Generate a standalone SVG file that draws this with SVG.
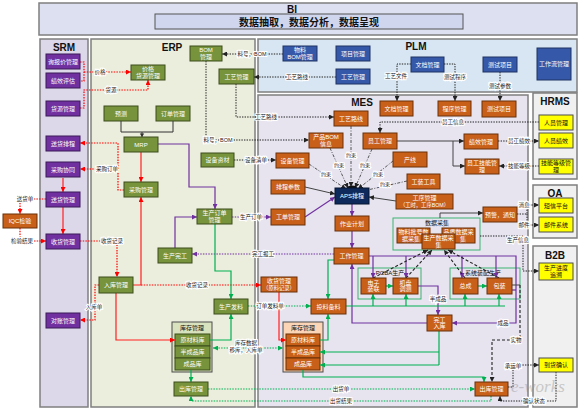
<svg xmlns="http://www.w3.org/2000/svg" width="583" height="411" viewBox="0 0 583 411">
<style>
.pnl{stroke:#7f7f7f;stroke-width:1.5}
.ttl{font-family:"Liberation Sans","Noto Sans CJK SC",sans-serif;font-weight:bold;font-size:10px;text-anchor:middle;fill:#111}
.nt{font-family:"Liberation Sans","Noto Sans CJK SC",sans-serif;font-size:6px;fill:#fff;text-anchor:middle}
.nk{font-family:"Liberation Sans","Noto Sans CJK SC",sans-serif;font-size:6px;fill:#111;text-anchor:middle}
.srm{fill:#7030A0;stroke:#3b1a56;stroke-width:1}
.erp{fill:#77933C;stroke:#3d4d1d;stroke-width:1}
.mes{fill:#C8601A;stroke:#6b3008;stroke-width:1}
.plm{fill:#3558A8;stroke:#1f3362;stroke-width:1}
.hr{fill:#FFFF00;stroke:#4d4d4d;stroke-width:1}
.grp{fill:none;stroke:#3CB371;stroke-width:1}
.lb{font-family:"Liberation Sans","Noto Sans CJK SC",sans-serif;font-size:5.5px;fill:#222;text-anchor:middle;stroke:#fff;stroke-width:2.2;paint-order:stroke}
.ys{font-size:5px}
.c{fill:none}
.rd{stroke:#FF0000;stroke-width:1.2;stroke-dasharray:1.5 1.2}
.rs{stroke:#FF2020;stroke-width:1.2}
.ps{stroke:#7030A0;stroke-width:1.2}
.pd{stroke:#7030A0;stroke-width:1.2;stroke-dasharray:1.5 1.2}
.gs{stroke:#00B050;stroke-width:1.2}
.gd{stroke:#00B050;stroke-width:1.2;stroke-dasharray:1.5 1.2}
.kd{stroke:#222;stroke-width:1;stroke-dasharray:1.4 1.2}
.kdd{stroke:#444;stroke-width:0.9;stroke-dasharray:3 1.5 1 1.5}
.kda{stroke:#222;stroke-width:1.1;stroke-dasharray:3 2}
.ks{stroke:#444;stroke-width:1}
</style>
<defs>
<marker id="ar" markerUnits="userSpaceOnUse" markerWidth="5" markerHeight="5" refX="5" refY="2.5" orient="auto"><path d="M0,0L5,2.5L0,5z" fill="#FF0000"/></marker>
<marker id="ap" markerUnits="userSpaceOnUse" markerWidth="5" markerHeight="5" refX="5" refY="2.5" orient="auto"><path d="M0,0L5,2.5L0,5z" fill="#7030A0"/></marker>
<marker id="ag" markerUnits="userSpaceOnUse" markerWidth="5" markerHeight="5" refX="5" refY="2.5" orient="auto"><path d="M0,0L5,2.5L0,5z" fill="#00B050"/></marker>
<marker id="ags" markerUnits="userSpaceOnUse" markerWidth="5" markerHeight="5" refX="0" refY="2.5" orient="auto"><path d="M5,0L0,2.5L5,5z" fill="#00B050"/></marker>
<marker id="ak" markerUnits="userSpaceOnUse" markerWidth="5" markerHeight="5" refX="5" refY="2.5" orient="auto"><path d="M0,0L5,2.5L0,5z" fill="#222"/></marker>
</defs>
<rect width="583" height="411" fill="#fff"/>

<g id="panel-bi">
<rect class="pnl" x="39" y="3" width="538" height="32" fill="#DCE0F1"/>
<text class="ttl" x="292" y="13">BI</text>
<rect x="155" y="14" width="308" height="15" fill="#D0D6EE" stroke="#555" stroke-width="1"/>
<text class="ttl" x="309" y="25.5" font-size="9.5">数据抽取，数据分析，数据呈现</text>
</g>
<g id="panel-srm"><rect class="pnl" x="40" y="39" width="48" height="368" fill="#DDD7EA"/><text class="ttl" x="64" y="51">SRM</text></g>
<g id="panel-erp"><rect class="pnl" x="91" y="39" width="164" height="368" fill="#EBEEDC"/><text class="ttl" x="172" y="51">ERP</text></g>
<g id="panel-plm"><rect class="pnl" x="258" y="39" width="319" height="53" fill="#D7E6F2"/><text class="ttl" x="416" y="50">PLM</text></g>
<g id="panel-mes"><rect class="pnl" x="258" y="95" width="270" height="312" fill="#E7E4F0"/><text class="ttl" x="362" y="106">MES</text></g>
<g id="panel-hrms"><rect class="pnl" x="533" y="93" width="44" height="86" fill="#F0F0F0"/><text class="ttl" x="555" y="105">HRMS</text></g>
<g id="panel-oa"><rect class="pnl" x="533" y="185" width="44" height="53" fill="#F0F0F0"/><text class="ttl" x="555" y="197">OA</text></g>
<g id="panel-b2b"><rect class="pnl" x="533" y="246" width="44" height="161" fill="#F0F0F0"/><text class="ttl" x="555" y="259">B2B</text></g>

<g id="erp-kc"><rect x="172" y="322" width="40" height="50" fill="#D8E2BE" stroke="#4d4d4d"/><text class="nk" x="192" y="330">库存管理</text>
<rect class="erp" x="175" y="334" width="35" height="12"/><text class="nt" x="192.5" y="342.1">原材料库</text>
<rect class="erp" x="175" y="346" width="35" height="12"/><text class="nt" x="192.5" y="354.1">半成品库</text>
<rect class="erp" x="175" y="358" width="35" height="12"/><text class="nt" x="192.5" y="366.1">成品库</text></g>
<g id="mes-kc"><rect x="283" y="322" width="40" height="50" fill="#FBD5B5" stroke="#4d4d4d"/><text class="nk" x="303" y="330">库存管理</text>
<rect class="mes" x="286" y="334" width="34" height="12"/><text class="nt" x="303" y="342.1">原材料库</text>
<rect class="mes" x="286" y="346" width="34" height="12"/><text class="nt" x="303" y="354.1">半成品库</text>
<rect class="mes" x="286" y="358" width="34" height="12"/><text class="nt" x="303" y="366.1">成品库</text></g>
<g id="mes-sjcj-grp"><rect class="grp" x="393" y="218" width="87" height="32"/><text class="nk" x="437" y="224.5" font-size="5.5">数据采集</text></g>
<g id="mes-pcba-grp"><rect class="grp" x="358" y="268" width="63" height="31"/><text class="nk" x="390" y="275" font-size="5.5">PCBA生产</text></g>
<g id="mes-xtzp-grp"><rect class="grp" x="450" y="268" width="70" height="31"/><text class="nk" x="483" y="275" font-size="5.5">系统装配生产</text></g>

<g id="connectors">
<path class="c rd" d="M80,62H84V81H80"/>
<path class="c rd" d="M84,72H131" marker-end="url(#ar)"/>
<path class="c rd" d="M80,108H84V90H148V80" marker-end="url(#ar)"/>
<path class="c rd" d="M124,190H118V143H80" marker-end="url(#ar)"/>
<path class="c rd" d="M118,169H80" marker-end="url(#ar)"/>
<path class="c rd" d="M46,199H20V214" marker-end="url(#ar)"/>
<path class="c rd" d="M20,228V241H46" marker-end="url(#ar)"/>
<path class="c rd" d="M80,241H117V277" marker-end="url(#ar)"/>
<path class="c rd" d="M99,285H95V320H80" marker-end="url(#ar)"/>
<path class="c rd" d="M141,285H261" marker-end="url(#ar)"/>
<path class="c rs" d="M141,152V182" marker-end="url(#ar)"/>
<path class="c rs" d="M133,285H141V197" marker-end="url(#ar)"/>
<path class="c rs" d="M116,293V340H175" marker-end="url(#ar)"/>
<path class="c rs" d="M279,292V340H286" marker-end="url(#ar)"/>
<path class="c rs" d="M63,178V192" marker-end="url(#ar)"/>
<path class="c rs" d="M63,207V234" marker-end="url(#ar)"/>

<path class="c ps" d="M158,144H189V187H215V209" marker-end="url(#ap)"/>
<path class="c ps" d="M175,248V217H197" marker-end="url(#ap)"/>
<path class="c pd" d="M232,217H271" marker-end="url(#ap)"/>
<path class="c pd" d="M334,254H192" marker-end="url(#ap)"/>
<path class="c ps" d="M305,217L335,197" marker-end="url(#ap)"/>
<path class="c ps" d="M352,204V216" marker-end="url(#ap)"/>
<path class="c ps" d="M352,231V248" marker-end="url(#ap)"/>
<path class="c ps" d="M369,256H516V323H452" marker-end="url(#ap)"/>
<path class="c ps" d="M512,290H516"/>
<path class="c ps" d="M373,256V278" marker-end="url(#ap)"/>
<path class="c ps" d="M406,256V278" marker-end="url(#ap)"/>
<path class="c ps" d="M462,256V278" marker-end="url(#ap)"/>
<path class="c ps" d="M496,256V278" marker-end="url(#ap)"/>
<path class="c ps" d="M418,286H438V315" marker-end="url(#ap)"/>
<path class="c ps" d="M427,323H352V264" marker-end="url(#ap)"/>

<path class="c gs" d="M215,224V271H231V299" marker-end="url(#ag)"/>
<path class="c gd" d="M248,306H311" marker-end="url(#ag)"/>
<path class="c gs" d="M210,340H231V314" marker-end="url(#ag)"/>
<path class="c gd" d="M213,348H283" marker-start="url(#ags)" marker-end="url(#ag)"/>
<path class="c gs" d="M334,260H328V299" marker-end="url(#ag)"/>
<path class="c gs" d="M320,340H328V314" marker-end="url(#ag)"/>
<path class="c gs" d="M346,306H505"/>
<path class="c gs" d="M373,306V294" marker-end="url(#ag)"/>
<path class="c gs" d="M406,306V294" marker-end="url(#ag)"/>
<path class="c gs" d="M465,306V294" marker-end="url(#ag)"/>
<path class="c gs" d="M499,306V294" marker-end="url(#ag)"/>
<path class="c gs" d="M386,286H393" marker-end="url(#ag)"/>
<path class="c gs" d="M478,286H487" marker-end="url(#ag)"/>
<path class="c gs" d="M439,331V365"/>
<path class="c gs" d="M439,352H320" marker-end="url(#ag)"/>
<path class="c gs" d="M439,365H320" marker-end="url(#ag)"/>
<path class="c gs" d="M303,370V377H484V382" marker-end="url(#ag)"/>
<path class="c gs" d="M191,370V382" marker-end="url(#ag)"/>
<path class="c gd" d="M208,389H475" marker-end="url(#ag)"/>
<path class="c gd" d="M491,396V401H191V396" marker-end="url(#ag)"/>

<path class="c kd" d="M283,54H222" marker-end="url(#ak)"/>
<path class="c kd" d="M336,77H254" marker-end="url(#ak)"/>
<path class="c kd" d="M236,84V117H334" marker-end="url(#ak)"/>
<path class="c kd" d="M206,61V140H309" marker-end="url(#ak)"/>
<path class="c kd" d="M234,160H276" marker-end="url(#ak)"/>
<path class="c kd" d="M411,64H397V101" marker-end="url(#ak)"/>
<path class="c kd" d="M444,64H455V101" marker-end="url(#ak)"/>
<path class="c kd" d="M500,72V101" marker-end="url(#ak)"/>
<path class="c kd" d="M539,122H380V133" marker-end="url(#ak)"/>
<path class="c kd" d="M498,141H539" marker-end="url(#ak)"/>
<path class="c kd" d="M539,166H499" marker-end="url(#ak)"/>
<path class="c kd" d="M517,214H527V205H539" marker-end="url(#ak)"/>
<path class="c kd" d="M527,214V225H539" marker-end="url(#ak)"/>
<path class="c kd" d="M480,236H523V271H539" marker-end="url(#ak)"/>
<path class="c kd" d="M508,387H513V365H539" marker-end="url(#ak)"/>
<path class="c kd" d="M556,372V401H500V396" marker-end="url(#ak)"/>

<path class="c kdd" d="M351,126V187" marker-end="url(#ak)"/>
<path class="c kdd" d="M330,148L348,188" marker-end="url(#ak)"/>
<path class="c kdd" d="M309,164L346,189" marker-end="url(#ak)"/>
<path class="c kdd" d="M372,149L355,188" marker-end="url(#ak)"/>
<path class="c kdd" d="M393,161L358,189" marker-end="url(#ak)"/>
<path class="c kdd" d="M407,181L363,191" marker-end="url(#ak)"/>
<ellipse cx="352" cy="188" rx="5" ry="2.5" fill="#111"/>
<path class="c ks" d="M305,187L335,194" marker-end="url(#ak)"/>
<path class="c ks" d="M396,201L369,197" marker-end="url(#ak)"/>
<path class="c ks" d="M397,141H464" marker-end="url(#ak)"/>
<path class="c ks" d="M453,141V166H465" marker-end="url(#ak)"/>
<path class="c ks" d="M440,218V213H483" marker-end="url(#ak)"/>
<path class="c ks" d="M512,285H520"/>
<path class="c kda" d="M520,285V340H492V382" marker-end="url(#ak)"/>
<path class="c kda" d="M373,278L428,250" marker-end="url(#ak)"/>
<path class="c kda" d="M406,278L432,250" marker-end="url(#ak)"/>
<path class="c kda" d="M465,278L444,250" marker-end="url(#ak)"/>
<path class="c kda" d="M499,278L448,250" marker-end="url(#ak)"/>

<text class="lb" x="100" y="74">价格</text>
<text class="lb" x="111" y="92">货源</text>
<text class="lb" x="107" y="171">采购订单</text>
<text class="lb" x="25" y="201">送货单</text>
<text class="lb" x="22" y="243">检验结果</text>
<text class="lb" x="112" y="243">收货记录</text>
<text class="lb" x="94" y="309">入库单</text>
<text class="lb" x="197" y="287">收货记录</text>
<text class="lb" x="251" y="219">生产订单</text>
<text class="lb" x="263" y="256">完工报工</text>
<text class="lb" x="438" y="301">半成品</text>
<text class="lb" x="503" y="325">成品</text>
<text class="lb" x="270" y="308">订单发料单</text>
<text class="lb" x="246" y="344.5">库存数据<tspan x="246" dy="7">移库，入库单</tspan></text>
<text class="lb" x="341" y="391">出货单</text>
<text class="lb" x="341" y="403">出货结果</text>
<text class="lb" x="252" y="56">料号，BOM</text>
<text class="lb" x="297" y="79">工艺路线</text>
<text class="lb" x="266" y="119">工艺路线</text>
<text class="lb" x="218" y="142">料号，BOM</text>
<text class="lb" x="256" y="162">设备清单</text>
<text class="lb" x="396" y="78">工艺文件</text>
<text class="lb" x="455" y="79">测试程序</text>
<text class="lb" x="500" y="88">测试参数</text>
<text class="lb" x="453" y="124">员工信息</text>
<text class="lb" x="519" y="143">员工绩效</text>
<text class="lb" x="519" y="168">技能等级</text>
<text class="lb" x="524" y="207">消息</text>
<text class="lb" x="524" y="227">邮件</text>
<text class="lb" x="518" y="242">生产信息</text>
<text class="lb" x="513" y="368">承运单</text>
<text class="lb" x="534" y="403">确认状态</text>
<text class="lb" x="516" y="342">实物</text>
<text class="lb ys" x="351" y="157">约束</text>
<text class="lb ys" x="339" y="167">约束</text>
<text class="lb ys" x="326" y="176">约束</text>
<text class="lb ys" x="365" y="167">约束</text>
<text class="lb ys" x="378" y="176">约束</text>
<text class="lb ys" x="385" y="186">约束</text>
</g>

<g id="srm-xbj"><rect class="srm" x="46" y="54" width="34" height="15"/><text class="nt" x="63" y="63.6">询报价管理</text></g>
<g id="srm-jxpg"><rect class="srm" x="46" y="73" width="34" height="15"/><text class="nt" x="63" y="82.6">绩效评估</text></g>
<g id="srm-hygl"><rect class="srm" x="46" y="101" width="34" height="15"/><text class="nt" x="63" y="110.6">货源管理</text></g>
<g id="srm-shpc"><rect class="srm" x="46" y="136" width="34" height="15"/><text class="nt" x="63" y="145.6">送货排程</text></g>
<g id="srm-cgxt"><rect class="srm" x="46" y="162" width="34" height="15"/><text class="nt" x="63" y="171.6">采购协同</text></g>
<g id="srm-shgl"><rect class="srm" x="46" y="192" width="34" height="15"/><text class="nt" x="63" y="201.6">送货管理</text></g>
<g id="srm-sougl"><rect class="srm" x="46" y="234" width="34" height="15"/><text class="nt" x="63" y="243.6">收货管理</text></g>
<g id="srm-dzgl"><rect class="srm" x="46" y="313" width="34" height="15"/><text class="nt" x="63" y="322.6">对账管理</text></g>
<g id="iqc"><rect class="mes" x="3" y="214" width="34" height="14"/><text class="nt" x="20" y="223.1">IQC检验</text></g>

<g id="erp-jghy"><rect class="erp" x="131" y="65" width="34" height="15"/><text class="nt" x="148" y="71.1">价格<tspan x="148" dy="6.8">货源管理</tspan></text></g>
<g id="erp-bom"><rect class="erp" x="190" y="46" width="32" height="15"/><text class="nt" x="206" y="52.1">BOM<tspan x="206" dy="6.8">管理</tspan></text></g>
<g id="erp-gygl"><rect class="erp" x="219" y="69" width="35" height="15"/><text class="nt" x="236.5" y="78.6">工艺管理</text></g>
<g id="erp-yc"><rect class="erp" x="104" y="106" width="34" height="15"/><text class="nt" x="121" y="115.6">预测</text></g>
<g id="erp-ddgl"><rect class="erp" x="156" y="106" width="34" height="15"/><text class="nt" x="173" y="115.6">订单管理</text></g>
<g id="erp-link"><path class="c" d="M121,121V132H173V121M142,132V137" stroke="#333" stroke-width="1"/><path d="M139.8,133.5L144.2,133.5L142,137z" fill="#333"/></g>
<g id="erp-mrp"><rect class="erp" x="124" y="137" width="34" height="15"/><text class="nt" x="141" y="146.6">MRP</text></g>
<g id="erp-cggl"><rect class="erp" x="124" y="182" width="34" height="15"/><text class="nt" x="141" y="191.6">采购管理</text></g>
<g id="erp-sbzc"><rect class="erp" x="201" y="153" width="33" height="14"/><text class="nt" x="217.5" y="162.1">设备资材</text></g>
<g id="erp-scdd"><rect class="erp" x="197" y="209" width="35" height="15"/><text class="nt" x="214.5" y="215.1">生产订单<tspan x="214.5" dy="6.8">管理</tspan></text></g>
<g id="erp-scwg"><rect class="erp" x="158" y="248" width="34" height="15"/><text class="nt" x="175" y="257.6">生产完工</text></g>
<g id="erp-rkgl"><rect class="erp" x="99" y="277" width="34" height="16"/><text class="nt" x="116" y="287.1">入库管理</text></g>
<g id="erp-scfl"><rect class="erp" x="214" y="299" width="34" height="15"/><text class="nt" x="231" y="308.6">生产发料</text></g>
<g id="erp-ckgl"><rect class="erp" x="174" y="382" width="34" height="14"/><text class="nt" x="191" y="391.1">出库管理</text></g>

<g id="plm-wlbom"><rect class="plm" x="283" y="46" width="34" height="15"/><text class="nt" x="300" y="52.1">物料<tspan x="300" dy="6.8">BOM管理</tspan></text></g>
<g id="plm-xmgl"><rect class="plm" x="336" y="46" width="34" height="15"/><text class="nt" x="353" y="55.6">项目管理</text></g>
<g id="plm-gygl"><rect class="plm" x="336" y="69" width="34" height="15"/><text class="nt" x="353" y="78.6">工艺管理</text></g>
<g id="plm-wdgl"><rect class="plm" x="411" y="57" width="33" height="15"/><text class="nt" x="427.5" y="66.6">文档管理</text></g>
<g id="plm-csxm"><rect class="plm" x="483" y="57" width="34" height="15"/><text class="nt" x="500" y="66.6">测试项目</text></g>
<g id="plm-gzl"><rect class="plm" x="537" y="48" width="34" height="32"/><text class="nt" x="554" y="66.1">工作流管理</text></g>

<g id="mes-gylx"><rect class="mes" x="334" y="111" width="34" height="15"/><text class="nt" x="351" y="120.6">工艺路线</text></g>
<g id="mes-wdgl"><rect class="mes" x="380" y="101" width="33" height="15"/><text class="nt" x="396.5" y="110.6">文档管理</text></g>
<g id="mes-cxgl"><rect class="mes" x="438" y="101" width="33" height="15"/><text class="nt" x="454.5" y="110.6">程序管理</text></g>
<g id="mes-csxm"><rect class="mes" x="482" y="101" width="34" height="16"/><text class="nt" x="499" y="111.1">测试项目</text></g>
<g id="mes-cpbom"><rect class="mes" x="309" y="133" width="34" height="15"/><text class="nt" x="326" y="139.1">产品BOM<tspan x="326" dy="6.8">信息</tspan></text></g>
<g id="mes-yggl"><rect class="mes" x="363" y="133" width="34" height="16"/><text class="nt" x="380" y="143.1">员工管理</text></g>
<g id="mes-jxgl"><rect class="mes" x="464" y="134" width="34" height="15"/><text class="nt" x="481" y="143.6">绩效管理</text></g>
<g id="mes-cx"><rect class="mes" x="393" y="152" width="34" height="15"/><text class="nt" x="410" y="161.6">产线</text></g>
<g id="mes-ygjn"><rect class="mes" x="465" y="159" width="34" height="15"/><text class="nt" x="482" y="165.1">员工技能管<tspan x="482" dy="6.8">理</tspan></text></g>
<g id="mes-sbgl"><rect class="mes" x="276" y="153" width="33" height="15"/><text class="nt" x="292.5" y="162.6">设备管理</text></g>
<g id="mes-gzgj"><rect class="mes" x="407" y="174" width="33" height="15"/><text class="nt" x="423.5" y="183.6">工装工具</text></g>
<g id="mes-pccs"><rect class="mes" x="271" y="180" width="34" height="14"/><text class="nt" x="288" y="189.1">排程参数</text></g>
<g id="mes-aps"><rect x="335" y="188" width="34" height="16" fill="#0E2A5C" stroke="#061530"/><text class="nt" x="352" y="198.1">APS排程</text></g>
<g id="mes-gxgl"><rect class="mes" x="396" y="194" width="57" height="15"/><text class="nt" x="424.5" y="200.1">工序管理<tspan x="424.5" dy="6.8" font-size="5.3">（工时，工序BOM）</tspan></text></g>
<g id="mes-yj"><rect class="mes" x="483" y="207" width="34" height="15"/><text class="nt" x="500" y="216.6">预警，通知</text></g>
<g id="mes-gdgl"><rect class="mes" x="271" y="209" width="34" height="16"/><text class="nt" x="288" y="219.1">工单管理</text></g>
<g id="mes-zyjh"><rect class="mes" x="335" y="216" width="34" height="15"/><text class="nt" x="352" y="225.6">作业计划</text></g>
<g id="mes-wlph"><rect class="mes" x="397" y="228" width="33" height="15"/><text class="nt" x="413.5" y="234.1">物料批号数<tspan x="411" dy="6.8">据采集</tspan></text></g>
<g id="mes-pzsj"><rect class="mes" x="442" y="228" width="33" height="15"/><text class="nt" x="458.5" y="234.1">品质数据采<tspan x="463" dy="6.8">集</tspan></text></g>
<g id="mes-scsj"><rect class="mes" x="422" y="234" width="33" height="15"/><text class="nt" x="438.5" y="240.1">生产数据采<tspan x="438.5" dy="6.8">集</tspan></text></g>
<g id="mes-gzgl"><rect class="mes" x="334" y="248" width="35" height="16"/><text class="nt" x="351.5" y="258.1">工作管理</text></g>
<g id="mes-dzzl"><rect class="mes" x="361" y="278" width="25" height="16"/><text class="nt" x="373.5" y="284.6">电子<tspan x="373.5" dy="6.8">装联</tspan></text></g>
<g id="mes-jptc"><rect class="mes" x="393" y="278" width="25" height="16"/><text class="nt" x="405.5" y="284.6">机盘<tspan x="405.5" dy="6.8">调测</tspan></text></g>
<g id="mes-zc"><rect class="mes" x="453" y="278" width="25" height="16"/><text class="nt" x="465.5" y="288.1">总成</text></g>
<g id="mes-bz"><rect class="mes" x="487" y="278" width="25" height="16"/><text class="nt" x="499.5" y="288.1">包装</text></g>
<g id="mes-wgrk"><rect class="mes" x="427" y="315" width="25" height="16"/><text class="nt" x="439.5" y="321.6">完工<tspan x="439.5" dy="6.8">入库</tspan></text></g>
<g id="mes-tlbl"><rect class="mes" x="311" y="299" width="35" height="15"/><text class="nt" x="328.5" y="308.6">投料备料</text></g>
<g id="mes-shgl"><rect class="mes" x="261" y="277" width="36" height="15"/><text class="nt" x="279" y="283.1">收货管理<tspan x="279" dy="6.8" font-size="5.3">（原料记录）</tspan></text></g>
<g id="mes-ckgl"><rect class="mes" x="475" y="382" width="33" height="14"/><text class="nt" x="491.5" y="391.1">出库管理</text></g>

<g id="hr-rygl"><rect class="hr" x="539" y="115" width="34" height="15"/><text class="nk" x="556" y="124.6">人员管理</text></g>
<g id="hr-ryjx"><rect class="hr" x="539" y="133" width="34" height="15"/><text class="nk" x="556" y="142.6">人员绩效</text></g>
<g id="hr-jndj"><rect class="hr" x="539" y="159" width="34" height="15"/><text class="nk" x="556" y="165.1">技能等级管<tspan x="556" dy="6.8">理</tspan></text></g>
<g id="oa-dx"><rect class="hr" x="539" y="198" width="34" height="15"/><text class="nk" x="556" y="207.6">短信平台</text></g>
<g id="oa-yj"><rect class="hr" x="539" y="217" width="34" height="15"/><text class="nk" x="556" y="226.6">邮件系统</text></g>
<g id="b2b-scjd"><rect class="hr" x="539" y="263" width="34" height="17"/><text class="nk" x="556" y="270.3">生产进度<tspan x="556" dy="6.8">追溯</tspan></text></g>
<g id="b2b-dhqr"><rect class="hr" x="539" y="358" width="34" height="14"/><text class="nk" x="556" y="367.1">到货确认</text></g>

<text x="511" y="392" font-family="Liberation Serif,serif" font-style="italic" font-size="17" fill="#8c8c8c" opacity="0.4">e-works</text>
</svg>
